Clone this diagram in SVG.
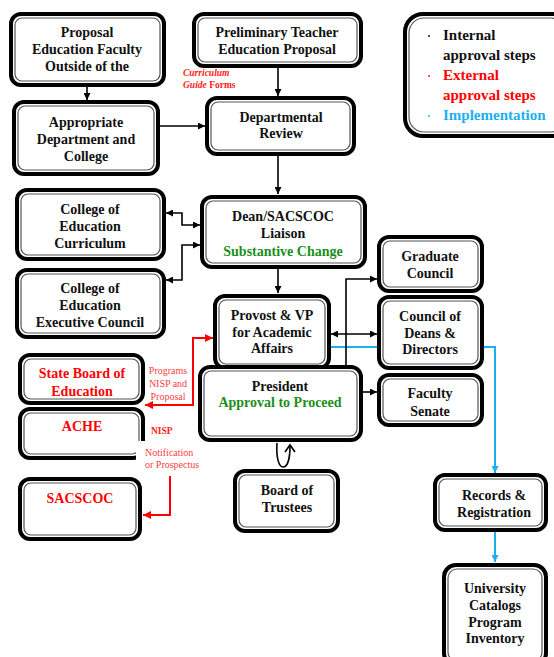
<svg xmlns="http://www.w3.org/2000/svg" width="554" height="657" viewBox="0 0 554 657">
  <style>
    .o { fill: #fff; stroke: #000; stroke-width: 4; }
    .i { fill: none; stroke: #555; stroke-width: 1.2; }
    .t { font-family: "Liberation Serif", "Times New Roman", serif; font-weight: bold; font-size: 14px; fill: #111; text-anchor: middle; }
    .g { fill: #1a8f1a; }
    .r { fill: #ff0000; }
    .lg { font-family: "Liberation Serif", "Times New Roman", serif; font-weight: bold; font-size: 15px; }
    .sm { font-family: "Liberation Serif", "Times New Roman", serif; font-size: 10px; fill: #ff4040; }
    .k { fill: none; stroke: #000; stroke-width: 1.6; }
    .rd { fill: none; stroke: #ff0000; stroke-width: 2; }
    .bl { fill: none; stroke: #1ab0ef; stroke-width: 2; }
  </style>
  <defs>
    <marker id="ak" viewBox="0 0 10 10" refX="10" refY="5" markerWidth="8" markerHeight="7" markerUnits="userSpaceOnUse" orient="auto-start-reverse">
      <path d="M0,0 L10,5 L0,10 z" fill="#000"/>
    </marker>
    <marker id="ar" viewBox="0 0 10 10" refX="10" refY="5" markerWidth="9" markerHeight="8" markerUnits="userSpaceOnUse" orient="auto-start-reverse">
      <path d="M0,0 L10,5 L0,10 z" fill="#ff0000"/>
    </marker>
    <marker id="ab" viewBox="0 0 10 10" refX="10" refY="5" markerWidth="8" markerHeight="7" markerUnits="userSpaceOnUse" orient="auto-start-reverse">
      <path d="M0,0 L10,5 L0,10 z" fill="#1ab0ef"/>
    </marker>
  </defs>

  <!-- connectors -->
  <g id="connectors">
    <path class="k" d="M87,87 V100" marker-end="url(#ak)"/>
    <path class="k" d="M278,68 V96" marker-end="url(#ak)"/>
    <path class="k" d="M160,126 H205" marker-end="url(#ak)"/>
    <path class="k" d="M278,156 V194" marker-end="url(#ak)"/>
    <path class="k" d="M166,213 H182 V225 H200" marker-start="url(#ak)" marker-end="url(#ak)"/>
    <path class="k" d="M200,245 H182 V280 H166" marker-start="url(#ak)" marker-end="url(#ak)"/>
    <path class="k" d="M278,269 V293" marker-end="url(#ak)"/>
    <path class="bl" d="M331,347 H495 V473" marker-end="url(#ab)"/>
    <path class="k" d="M331,334 H377" marker-start="url(#ak)" marker-end="url(#ak)"/>
    <path class="k" d="M346,366 V279 H377" marker-end="url(#ak)"/>
    <path class="k" d="M363,392 H377" marker-end="url(#ak)"/>
    <path class="bl" d="M495,532 V562" marker-end="url(#ab)"/>
    <path class="rd" d="M145,405 H193 V338 H213" marker-start="url(#ar)" marker-end="url(#ar)"/>
    <path class="rd" d="M170,476 V515 H143" marker-end="url(#ar)"/>
    <!-- President / Board of Trustees loop -->
    <path class="k" d="M277,443 C276,458 279,467 283,467 C288,467 290,457 290,446"/>
    <path class="k" d="M285,452 L290,445 L295,452"/>
  </g>

  <g id="n-proposal">
    <rect class="o" x="11" y="14" width="153" height="71" rx="10"/>
    <rect class="i" x="15" y="18" width="145" height="63" rx="7"/>
    <text class="t" x="87" y="37">Proposal</text>
    <text class="t" x="87" y="54">Education Faculty</text>
    <text class="t" x="87" y="71">Outside of the</text>
  </g>

  <g id="n-appropriate">
    <rect class="o" x="14" y="102" width="144" height="72" rx="10"/>
    <rect class="i" x="18" y="106" width="136" height="64" rx="7"/>
    <text class="t" x="86" y="127">Appropriate</text>
    <text class="t" x="86" y="144">Department and</text>
    <text class="t" x="86" y="161">College</text>
  </g>

  <g id="n-preliminary">
    <rect class="o" x="194" y="14" width="167" height="52" rx="10"/>
    <rect class="i" x="198" y="18" width="159" height="44" rx="7"/>
    <text class="t" x="277" y="37">Preliminary Teacher</text>
    <text class="t" x="277" y="54">Education Proposal</text>
  </g>

  <g id="n-departmental">
    <rect class="o" x="207" y="98" width="147" height="56" rx="10"/>
    <rect class="i" x="211" y="102" width="139" height="48" rx="7"/>
    <text class="t" x="281" y="122">Departmental</text>
    <text class="t" x="281" y="138">Review</text>
  </g>

  <g id="n-dean">
    <rect class="o" x="202" y="197" width="163" height="70" rx="10"/>
    <rect class="i" x="206" y="201" width="155" height="62" rx="7"/>
    <text class="t" x="283" y="221">Dean/SACSCOC</text>
    <text class="t" x="283" y="238">Liaison</text>
    <text class="t g" x="283" y="256">Substantive Change</text>
  </g>

  <g id="n-coe-curriculum">
    <rect class="o" x="17" y="190" width="147" height="69" rx="10"/>
    <rect class="i" x="21" y="194" width="139" height="61" rx="7"/>
    <text class="t" x="90" y="214">College of</text>
    <text class="t" x="90" y="231">Education</text>
    <text class="t" x="90" y="248">Curriculum</text>
  </g>

  <g id="n-coe-executive">
    <rect class="o" x="17" y="270" width="147" height="67" rx="10"/>
    <rect class="i" x="21" y="274" width="139" height="59" rx="7"/>
    <text class="t" x="90" y="293">College of</text>
    <text class="t" x="90" y="310">Education</text>
    <text class="t" x="90" y="327">Executive Council</text>
  </g>

  <g id="n-provost">
    <rect class="o" x="215" y="296" width="114" height="72" rx="10"/>
    <rect class="i" x="219" y="300" width="106" height="64" rx="7"/>
    <text class="t" x="272" y="320">Provost &amp; VP</text>
    <text class="t" x="272" y="337">for Academic</text>
    <text class="t" x="272" y="353">Affairs</text>
  </g>

  <g id="n-president">
    <rect class="o" x="200" y="367" width="161" height="73" rx="10"/>
    <rect class="i" x="204" y="371" width="153" height="65" rx="7"/>
    <text class="t" x="280" y="391">President</text>
    <text class="t g" x="280" y="407">Approval to Proceed</text>
  </g>

  <g id="n-graduate">
    <rect class="o" x="379" y="237" width="103" height="54" rx="10"/>
    <rect class="i" x="383" y="241" width="95" height="46" rx="7"/>
    <text class="t" x="430" y="261">Graduate</text>
    <text class="t" x="430" y="278">Council</text>
  </g>

  <g id="n-deans">
    <rect class="o" x="379" y="297" width="103" height="71" rx="10"/>
    <rect class="i" x="383" y="301" width="95" height="63" rx="7"/>
    <text class="t" x="430" y="321">Council of</text>
    <text class="t" x="430" y="338">Deans &amp;</text>
    <text class="t" x="430" y="354">Directors</text>
  </g>

  <g id="n-senate">
    <rect class="o" x="379" y="375" width="103" height="50" rx="10"/>
    <rect class="i" x="383" y="379" width="95" height="42" rx="7"/>
    <text class="t" x="430" y="398">Faculty</text>
    <text class="t" x="430" y="416">Senate</text>
  </g>

  <g id="n-board">
    <rect class="o" x="235" y="471" width="103" height="60" rx="10"/>
    <rect class="i" x="239" y="475" width="95" height="52" rx="7"/>
    <text class="t" x="287" y="495">Board of</text>
    <text class="t" x="287" y="512">Trustees</text>
  </g>

  <g id="n-state-board">
    <rect class="o" x="20" y="355" width="123" height="48" rx="10"/>
    <rect class="i" x="24" y="359" width="115" height="40" rx="7"/>
    <text class="t r" x="82" y="378">State Board of</text>
    <text class="t r" x="82" y="396">Education</text>
  </g>

  <g id="n-ache">
    <rect class="o" x="20" y="409" width="123" height="49" rx="10"/>
    <rect class="i" x="24" y="413" width="115" height="41" rx="7"/>
    <text class="t r" x="82" y="431">ACHE</text>
  </g>

  <g id="n-sacscoc">
    <rect class="o" x="20" y="479" width="120" height="60" rx="10"/>
    <rect class="i" x="24" y="483" width="112" height="52" rx="7"/>
    <text class="t r" x="80" y="503">SACSCOC</text>
  </g>

  <g id="n-records">
    <rect class="o" x="435" y="475" width="111" height="55" rx="10"/>
    <rect class="i" x="439" y="479" width="103" height="47" rx="7"/>
    <text class="t" x="494" y="500">Records &amp;</text>
    <text class="t" x="494" y="517">Registration</text>
  </g>

  <g id="n-catalogs">
    <rect class="o" x="444" y="565" width="102" height="100" rx="12"/>
    <rect class="i" x="448" y="569" width="94" height="92" rx="9"/>
    <text class="t" x="495" y="593">University</text>
    <text class="t" x="495" y="610">Catalogs</text>
    <text class="t" x="495" y="627">Program</text>
    <text class="t" x="495" y="643">Inventory</text>
  </g>

  <g id="legend">
    <rect class="o" x="405" y="14" width="165" height="122" rx="18"/>
    <rect class="i" x="409" y="18" width="157" height="114" rx="15"/>
    <circle cx="429" cy="36" r="0.9" fill="#000"/>
    <circle cx="429" cy="76" r="0.9" fill="#ff0000"/>
    <circle cx="429" cy="116" r="0.9" fill="#1ab0ef"/>
    <text class="lg" x="443" y="40" fill="#111">Internal</text>
    <text class="lg" x="443" y="60" fill="#111">approval steps</text>
    <text class="lg" x="443" y="80" fill="#ff0000">External</text>
    <text class="lg" x="443" y="100" fill="#ff0000">approval steps</text>
    <text class="lg" x="443" y="120" fill="#1ab0ef">Implementation</text>
  </g>

  <!-- edge labels -->
  <g id="labels">
    <text font-family="Liberation Serif, serif" font-weight="bold" font-size="9.5" fill="#ff2020" x="183" y="76" font-style="italic">Curriculum</text>
    <text font-family="Liberation Serif, serif" font-weight="bold" font-size="9.5" fill="#ff2020" x="183" y="88"><tspan font-style="italic">Guide</tspan> Forms</text>
    <text class="sm" x="168" y="374" text-anchor="middle">Programs</text>
    <text class="sm" x="168" y="387" text-anchor="middle">NISP and</text>
    <text class="sm" x="168" y="400" text-anchor="middle">Proposal</text>
    <text font-family="Liberation Serif, serif" font-weight="bold" font-size="9.5" fill="#ff2020" x="151" y="434">NISP</text>
    <rect x="136" y="441" width="62" height="30" fill="#fff"/>
    <text class="sm" x="145" y="456">Notification</text>
    <text class="sm" x="145" y="468">or Prospectus</text>
  </g>
</svg>
